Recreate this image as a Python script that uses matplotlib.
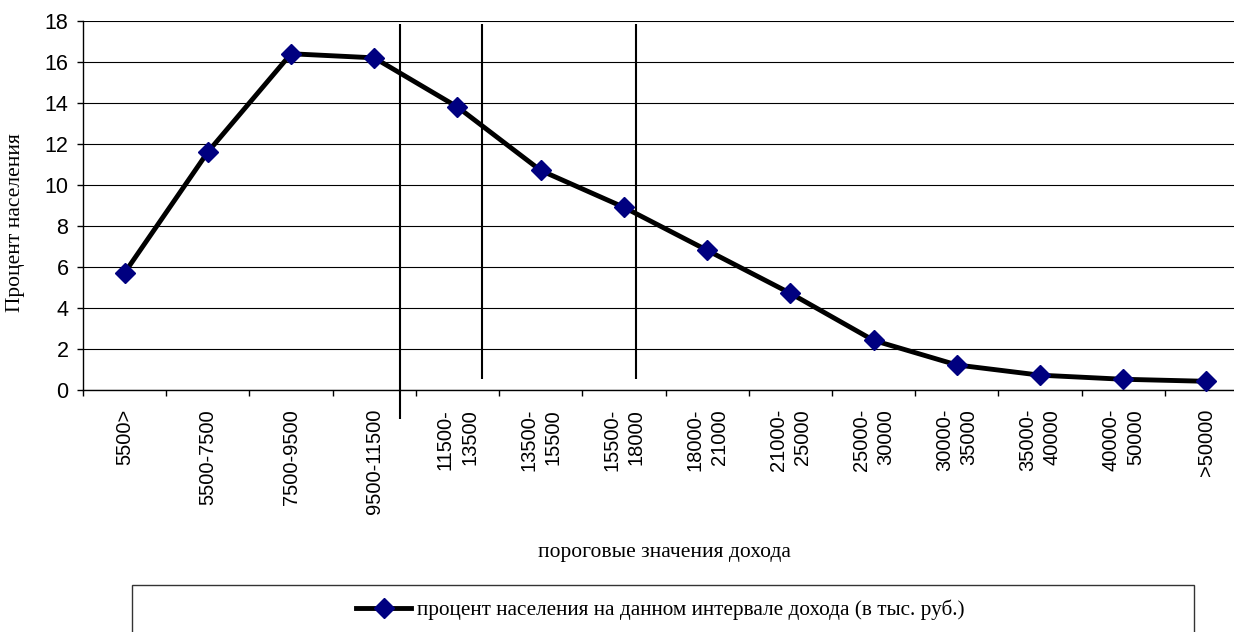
import matplotlib
matplotlib.use("Agg")
import matplotlib.pyplot as plt
from matplotlib.patches import Rectangle

categories = ["5500>", "5500-7500", "7500-9500", "9500-11500", "11500-\n13500",
              "13500-\n15500", "15500-\n18000", "18000-\n21000", "21000-\n25000",
              "25000-\n30000", "30000-\n35000", "35000-\n40000", "40000-\n50000", ">50000"]
values = [5.7, 11.6, 16.4, 16.2, 13.8, 10.7, 8.9, 6.8, 4.7, 2.4, 1.2, 0.7, 0.5, 0.4]
series_name = "процент населения на данном интервале дохода (в тыс. руб.)"
# vertical marker lines (x in category units, y range)
vline_x = [3.31, 4.29, 6.14]
vline_ymin = [-1.44, 0.53, 0.53]
vline_ymax = [17.85, 17.85, 17.85]

W, H = 1234, 632
fig = plt.figure(figsize=(W / 100, H / 100), dpi=100)
ax = fig.add_axes([83 / W, 242.5 / H, 1165 / W, 368.5 / H])

x = list(range(len(categories)))
ax.grid(axis="y", color="black", linewidth=0.8, zorder=0)
ax.set_axisbelow(True)
ax.vlines(vline_x, vline_ymin, vline_ymax, colors="black", linewidth=1.5, clip_on=False, zorder=2)
ax.plot(x, values, color="black", linewidth=3.5, marker="D", markersize=10.5,
        markerfacecolor="#000080", markeredgecolor="#000080", label=series_name, zorder=3,
        clip_on=False)

ax.set_xlim(-0.5, len(categories) - 0.5)
ax.set_ylim(0, 18)
ax.set_yticks(range(0, 19, 2))

ax.set_xticks(x)
ax.set_xticklabels(categories, rotation=90, fontsize=14.5, family="Liberation Sans",
                   linespacing=1.35)
for lbl in ax.get_xticklabels():
    lbl.set_multialignment("right")
ax.set_xticks([i - 0.5 for i in range(len(categories) + 1)], minor=True)
ax.tick_params(axis="x", which="major", length=0, pad=14)
ax.tick_params(axis="x", which="minor", length=4.5, width=1, color="black")
ax.tick_params(axis="y", length=4.5, width=1, labelsize=15.5, pad=6)
for lbl in ax.get_yticklabels():
    lbl.set_family("Liberation Sans")

for s in ["top", "right"]:
    ax.spines[s].set_visible(False)
ax.spines["left"].set_linewidth(1)
ax.spines["bottom"].set_linewidth(1)

ax.set_ylabel("Процент населения", family="Liberation Serif", fontsize=15.5)
ax.yaxis.set_label_coords(-0.0498, 0.453)
ax.set_xlabel("пороговые значения дохода", family="Liberation Serif", fontsize=15.5)
ax.xaxis.set_label_coords(0.4987, -0.4166)

fig.patches.append(Rectangle((131.7 / W, -0.05), (1194 - 131.7) / W, 0.05 + 1 - 584.7 / H,
                             transform=fig.transFigure, fill=False, edgecolor="#333333",
                             linewidth=1))
fig.legend(loc="center", bbox_to_anchor=(660 / W, 1 - 610 / H), frameon=False,
           prop={"family": "Liberation Serif", "size": 15.3}, handlelength=2.6,
           handletextpad=0.25)

fig.savefig("out.png", dpi=100)
